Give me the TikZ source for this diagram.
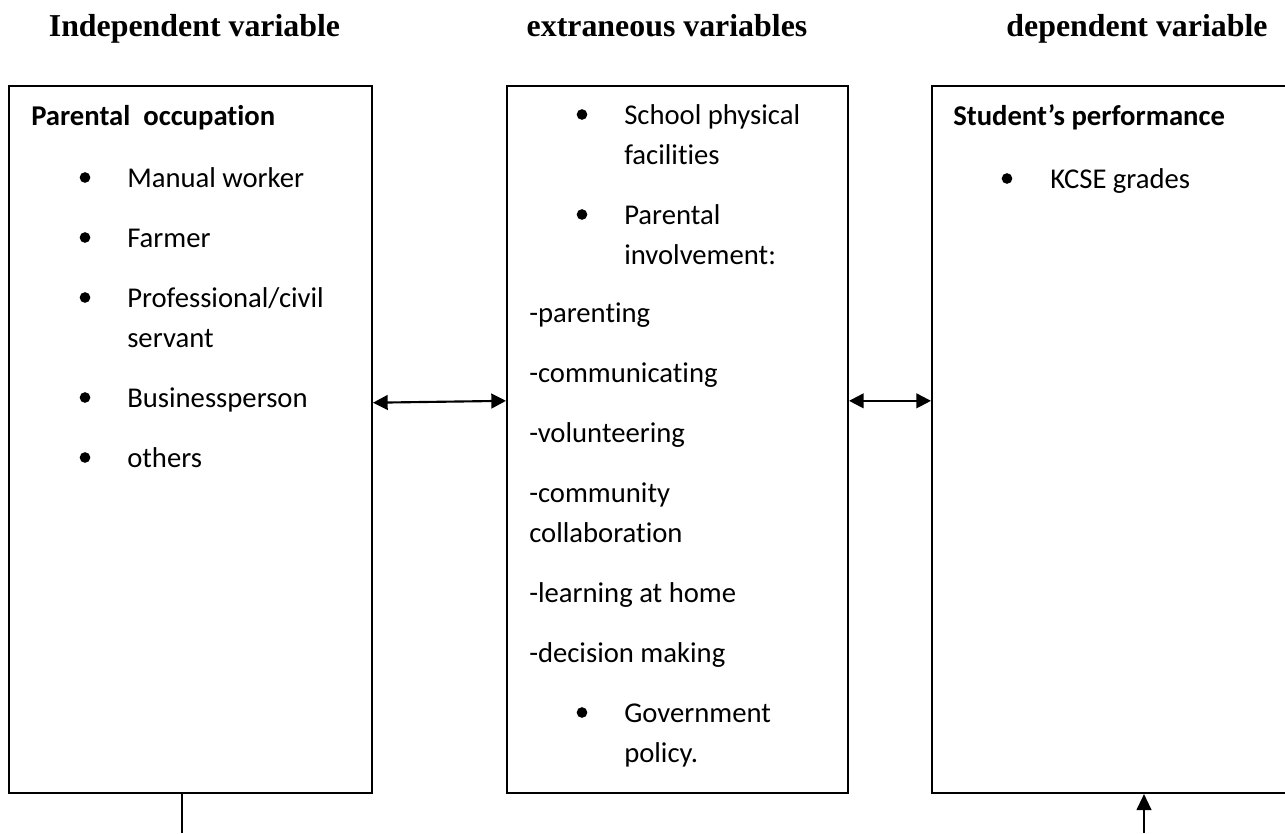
\documentclass[tikz,border=0pt]{standalone}
\usepackage{fontspec}
\setmainfont[Ligatures=NoCommon]{Carlito}
\newfontfamily\headfont{Liberation Serif}
\usetikzlibrary{arrows.meta}
\usetikzlibrary{fit}

\tikzset{
  box/.style={draw, line width=1.5pt, inner sep=0pt},
  heading/.style={font=\headfont\bfseries\fontsize{23.9}{28}\selectfont, anchor=base, inner sep=0pt},
  entry/.style={font=\fontsize{21.5}{26}\selectfont, anchor=base west, inner sep=0pt},
  title/.style={entry, font=\bfseries\fontsize{21.5}{26}\selectfont},
  link/.style={line width=1.6pt, {Triangle[length=11pt,width=11pt]}-{Triangle[length=11pt,width=11pt]}},
  uplink/.style={line width=1.6pt, -{Triangle[length=12pt,width=11pt]}},
}

\begin{document}
\begin{tikzpicture}[x=0.75pt, y=-0.75pt]
 \useasboundingbox (0,0) rectangle (1285,833);
 % column headings
 \node[heading] (indep) at (194.5,36) {Independent variable};
 \node[heading] (extra) at (667,36) {extraneous variables};
 \node[heading] (dep) at (1137,36) {dependent variable};
 % the three boxes
 \node[box, fit={(9,86) (372,793)}] (occbox) {};
 \node[box, fit={(507,86) (848,793)}] (extbox) {};
 \node[box, fit={(932,86) (1300,793)}] (perfbox) {};

 % independent variable
 \node[title] (occ) at (31,125) {Parental~ occupation};
 \foreach \txt/\yy [count=\i] in {Manual worker/187, Farmer/247, {Professional/civil}/307, servant/347, Businessperson/407, others/467}
   \node[entry] (occ\i) at (127,\yy) {\txt};
 \foreach \yy in {187,247,307,407,467}
   \fill (85,\yy-9.5) circle [radius=4pt];

 % extraneous variables
 \foreach \txt/\xx/\yy [count=\i] in {School physical/624/124, facilities/624/164, Parental/624/224, involvement:/624/264, -parenting/529/322, -communicating/529/382, -volunteering/529/442, -community/529/502, collaboration/529/542, -learning at home/529/602, -decision making/529/662, Government/624/722, policy./624/762}
   \node[entry] (ext\i) at (\xx,\yy) {\txt};
 \foreach \yy in {124,224,722}
   \fill (582,\yy-9.5) circle [radius=4pt];

 % dependent variable
 \node[title] (perf) at (953,125) {Student’s performance};
 \node[entry] (perf1) at (1050,188) {KCSE grades};
 \fill (1007,178.5) circle [radius=4pt];

 % connectors
 \draw[link] ([yshift=27.6pt]occbox.east) -- ([yshift=29pt]extbox.west);
 \draw[link] ([yshift=29pt]extbox.east) -- ([yshift=29pt]perfbox.west);
 \coordinate (occfoot) at (182,833);
 \coordinate (perffoot) at (1144,833);
 \draw[line width=1.5pt] (occbox.south -| occfoot) -- (occfoot);
 \draw[uplink] (perffoot) -- (perfbox.south -| perffoot);
\end{tikzpicture}
\end{document}
